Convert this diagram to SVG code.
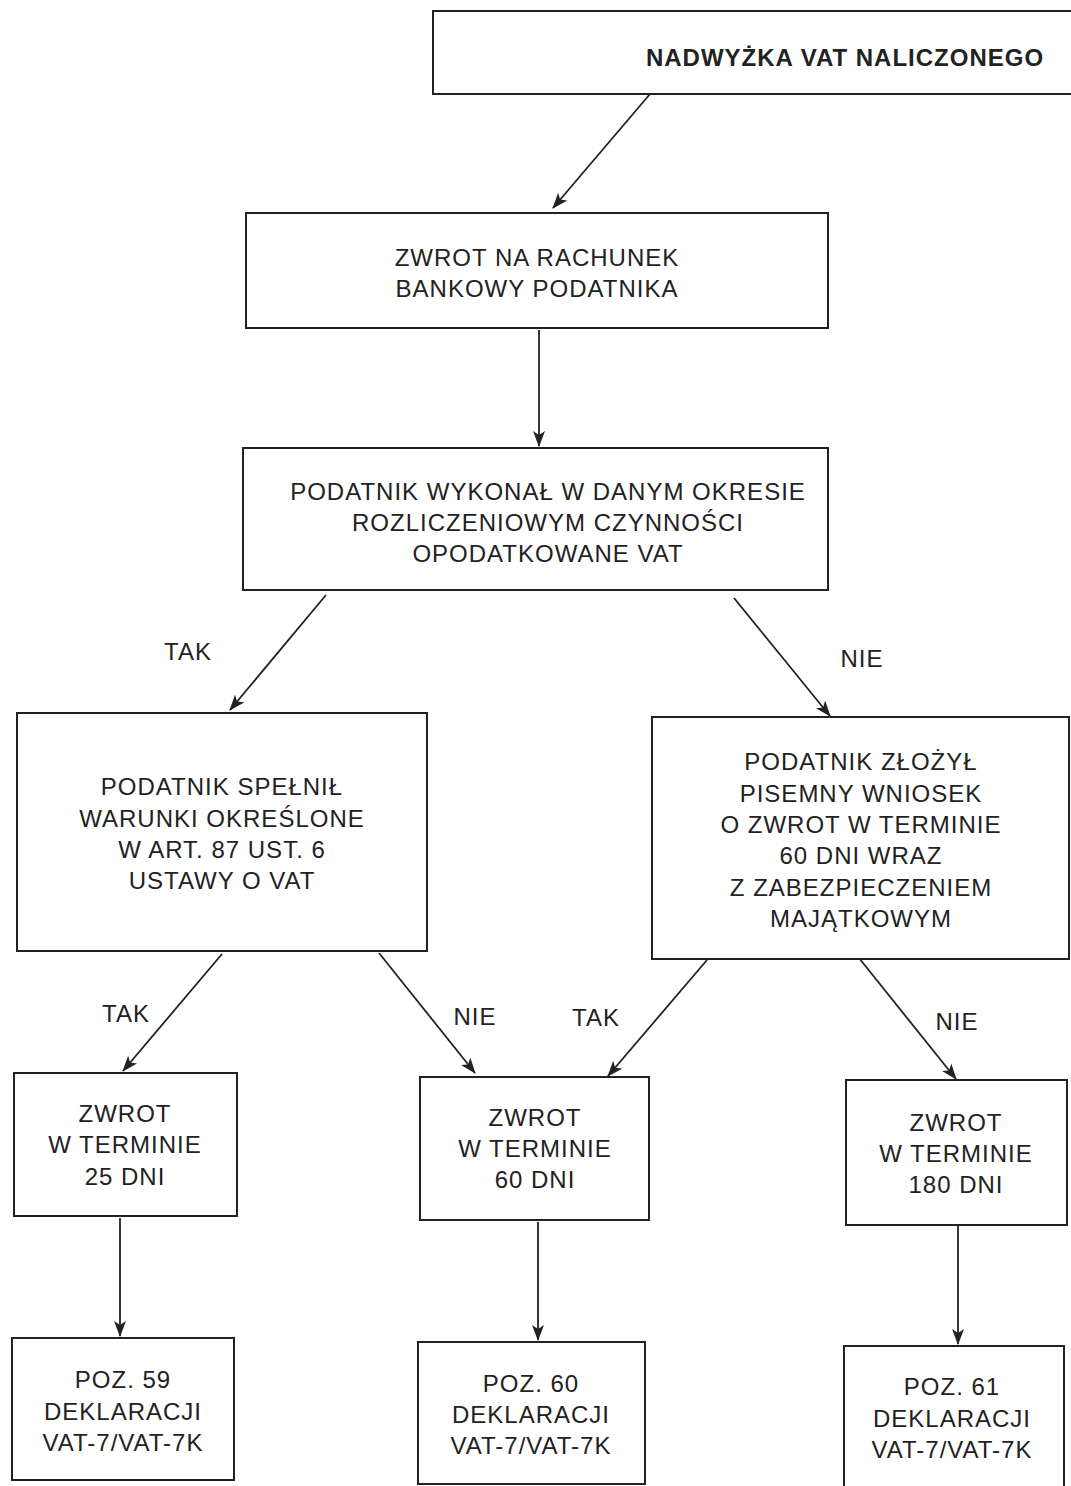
<svg xmlns="http://www.w3.org/2000/svg" width="1071" height="1486" viewBox="0 0 1071 1486">
<style>
.box{fill:#fff;stroke:#222;stroke-width:2}
.t{font-family:"Liberation Sans",Arial,sans-serif;font-size:24px;letter-spacing:1px;fill:#222;text-anchor:middle}
.b{font-weight:bold}
.c{stroke:#222;stroke-width:1.8;fill:none;marker-end:url(#ah)}
</style>
<defs>
<marker id="ah" markerUnits="userSpaceOnUse" markerWidth="16" markerHeight="12" refX="15" refY="6" orient="auto">
<path d="M0,0 L16,6 L0,12 L4,6 z" fill="#222"/>
</marker>
</defs>
<rect width="1071" height="1486" fill="#fff"/>
<g id="connectors">
<line class="c" x1="650" y1="94" x2="553" y2="208"/>
<line class="c" x1="539" y1="330" x2="539" y2="446"/>
<line class="c" x1="326" y1="595" x2="230" y2="710"/>
<line class="c" x1="734" y1="598" x2="830" y2="716"/>
<line class="c" x1="222" y1="954" x2="123" y2="1071"/>
<line class="c" x1="379" y1="953" x2="475" y2="1073"/>
<line class="c" x1="707" y1="960" x2="608" y2="1076"/>
<line class="c" x1="859" y1="958" x2="956" y2="1079"/>
<line class="c" x1="120" y1="1218" x2="120" y2="1336"/>
<line class="c" x1="538" y1="1222" x2="538" y2="1340"/>
<line class="c" x1="958" y1="1226" x2="958" y2="1344"/>
<text class="t" x="188" y="660">TAK</text>
<text class="t" x="862" y="667">NIE</text>
<text class="t" x="126" y="1022">TAK</text>
<text class="t" x="475" y="1025">NIE</text>
<text class="t" x="596" y="1026">TAK</text>
<text class="t" x="957" y="1030">NIE</text>
</g>
<g id="n1">
<rect class="box" x="433" y="11" width="645" height="83"/>
<text class="t b" x="845" y="66">NADWYŻKA VAT NALICZONEGO</text>
</g>
<g id="n2">
<rect class="box" x="246" y="213" width="582" height="115"/>
<text class="t" x="537" y="266">ZWROT NA RACHUNEK</text>
<text class="t" x="537" y="297">BANKOWY PODATNIKA</text>
</g>
<g id="n3">
<rect class="box" x="243" y="448" width="585" height="142"/>
<text class="t" x="548" y="500">PODATNIK WYKONAŁ W DANYM OKRESIE</text>
<text class="t" x="548" y="531">ROZLICZENIOWYM CZYNNOŚCI</text>
<text class="t" x="548" y="562">OPODATKOWANE VAT</text>
</g>
<g id="n4">
<rect class="box" x="17" y="713" width="410" height="238"/>
<text class="t" x="222" y="795">PODATNIK SPEŁNIŁ</text>
<text class="t" x="222" y="827">WARUNKI OKREŚLONE</text>
<text class="t" x="222" y="858">W ART. 87 UST. 6</text>
<text class="t" x="222" y="889">USTAWY O VAT</text>
</g>
<g id="n5">
<rect class="box" x="652" y="717" width="417" height="242"/>
<text class="t" x="861" y="770">PODATNIK ZŁOŻYŁ</text>
<text class="t" x="861" y="802">PISEMNY WNIOSEK</text>
<text class="t" x="861" y="833">O ZWROT W TERMINIE</text>
<text class="t" x="861" y="864">60 DNI WRAZ</text>
<text class="t" x="861" y="896">Z ZABEZPIECZENIEM</text>
<text class="t" x="861" y="927">MAJĄTKOWYM</text>
</g>
<g id="n6">
<rect class="box" x="14" y="1073" width="223" height="143"/>
<text class="t" x="125" y="1122">ZWROT</text>
<text class="t" x="125" y="1153">W TERMINIE</text>
<text class="t" x="125" y="1185">25 DNI</text>
</g>
<g id="n7">
<rect class="box" x="420" y="1077" width="229" height="143"/>
<text class="t" x="535" y="1126">ZWROT</text>
<text class="t" x="535" y="1157">W TERMINIE</text>
<text class="t" x="535" y="1188">60 DNI</text>
</g>
<g id="n8">
<rect class="box" x="846" y="1080" width="221" height="145"/>
<text class="t" x="956" y="1131">ZWROT</text>
<text class="t" x="956" y="1162">W TERMINIE</text>
<text class="t" x="956" y="1193">180 DNI</text>
</g>
<g id="n9">
<rect class="box" x="12" y="1338" width="222" height="142"/>
<text class="t" x="123" y="1388">POZ. 59</text>
<text class="t" x="123" y="1420">DEKLARACJI</text>
<text class="t" x="123" y="1451">VAT-7/VAT-7K</text>
</g>
<g id="n10">
<rect class="box" x="418" y="1342" width="227" height="142"/>
<text class="t" x="531" y="1392">POZ. 60</text>
<text class="t" x="531" y="1423">DEKLARACJI</text>
<text class="t" x="531" y="1454">VAT-7/VAT-7K</text>
</g>
<g id="n11">
<rect class="box" x="844" y="1346" width="220" height="150"/>
<text class="t" x="952" y="1395">POZ. 61</text>
<text class="t" x="952" y="1427">DEKLARACJI</text>
<text class="t" x="952" y="1458">VAT-7/VAT-7K</text>
</g>
</svg>
